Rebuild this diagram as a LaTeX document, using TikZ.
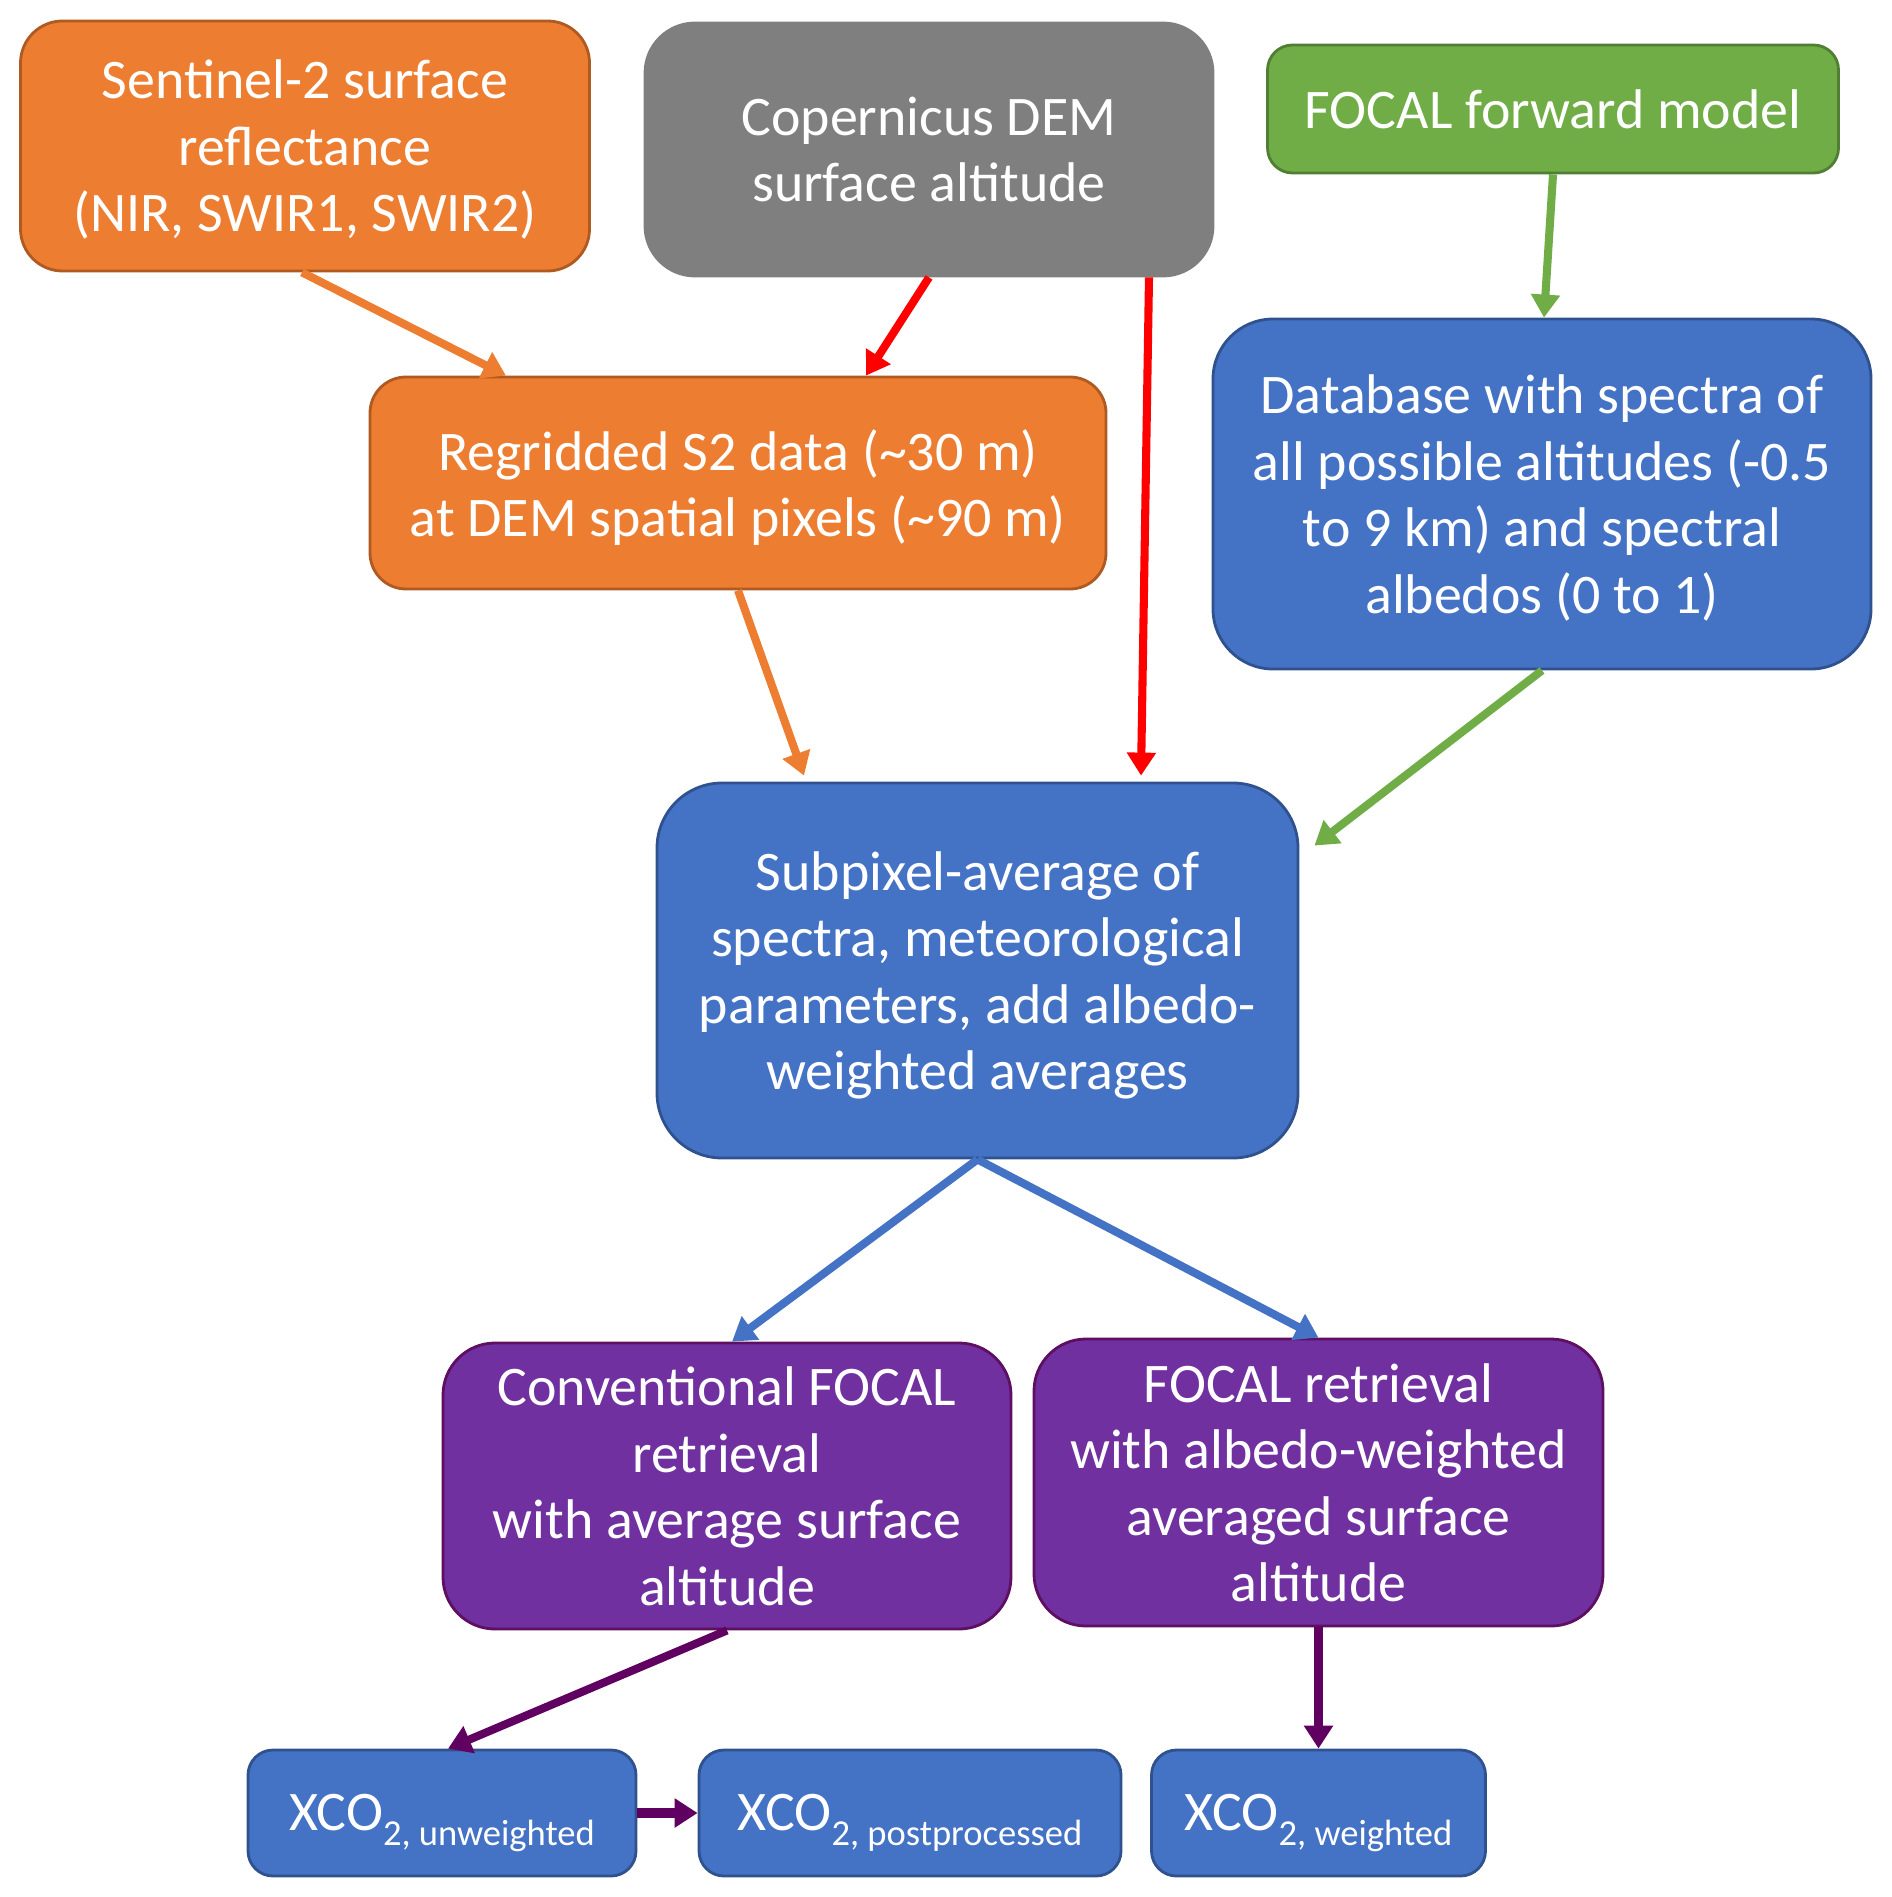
\documentclass[tikz,border=0pt]{standalone}
\usepackage{fontspec}
\setmainfont{Carlito}
\usetikzlibrary{arrows.meta}

\definecolor{orng}{HTML}{ED7D31}
\definecolor{orngD}{HTML}{AE5A21}
\definecolor{gry}{HTML}{7F7F7F}
\definecolor{grn}{HTML}{70AD47}
\definecolor{grnD}{HTML}{507E32}
\definecolor{blu}{HTML}{4472C4}
\definecolor{bluD}{HTML}{2F528F}
\definecolor{prp}{HTML}{7030A0}
\definecolor{prpD}{HTML}{5E0F62}
\definecolor{prpA}{HTML}{600060}
\definecolor{redA}{HTML}{FF0000}

\newcommand{\xsub}[1]{\raisebox{-4.2pt}{\fontsize{10.4}{12}\selectfont #1}}

\begin{document}
\begin{tikzpicture}[
      caixa/.style={draw, align=center, text=white, line width=0.8pt, inner sep=0pt,
                    font=\fontsize{15.9}{18.9}\selectfont, text depth=0pt},
      laranja/.style={caixa, fill=orng, draw=orngD},
      cinza/.style={caixa, fill=gry, draw=gry},
      verde/.style={caixa, fill=grn, draw=grnD},
      azul/.style={caixa, fill=blu, draw=bluD},
      roxo/.style={caixa, fill=prp, draw=prpD},
      xco/.style={azul, minimum height=1.26cm, rounded corners=0.25cm,
                  text height=10pt},
      seta/.style={-{Triangle[length=2.3mm, width=2.8mm]}, line width=2.3pt}
    ]
    \useasboundingbox (0,0) rectangle (18.92,-18.97);
    \node[laranja, minimum width=5.69cm, minimum height=2.50cm, rounded corners=0.42cm]
      (s2) at (3.05,-1.46) {Sentinel-2 surface\\ reflectance\\ (NIR, SWIR1, SWIR2)};
    \node[cinza, minimum width=5.68cm, minimum height=2.53cm, rounded corners=0.5cm]
      (dem) at (9.29,-1.495) {Copernicus DEM\\ surface altitude};
    \node[verde, minimum width=5.71cm, minimum height=1.28cm, rounded corners=0.25cm]
      (fwd) at (15.53,-1.09) {FOCAL forward model};
    \node[laranja, minimum width=7.36cm, minimum height=2.12cm, rounded corners=0.36cm]
      (regrid) at (7.38,-4.83) {Regridded S2 data (\textasciitilde30 m)\\
      at DEM spatial pixels (\textasciitilde90 m)};
    \node[azul, minimum width=6.58cm, minimum height=3.50cm, rounded corners=0.6cm]
      (db) at (15.42,-4.94) {Database with spectra of\\ all possible altitudes (-0.5\\
      to 9 km) and spectral\\ albedos (0 to 1)};
    \node[azul, minimum width=6.41cm, minimum height=3.75cm, rounded corners=0.65cm]
      (sub) at (9.775,-9.705) {Subpixel-average of\\ spectra, meteorological\\
      parameters, add albedo-\\ weighted averages};
    \node[roxo, minimum width=5.68cm, minimum height=2.86cm, rounded corners=0.52cm]
      (conv) at (7.27,-14.86) {Conventional FOCAL\\ retrieval\\ with average surface\\ altitude};
    \node[roxo, minimum width=5.69cm, minimum height=2.87cm, rounded corners=0.52cm]
      (fret) at (13.185,-14.825) {FOCAL retrieval\\ with albedo-weighted\\
      averaged surface\\ altitude};
    \node[xco, minimum width=3.88cm] (xu) at (4.42,-18.13) {XCO\xsub{2, unweighted}};
    \node[xco, minimum width=4.22cm] (xp) at (9.10,-18.13) {XCO\xsub{2, postprocessed}};
    \node[xco, minimum width=3.34cm] (xw) at (13.185,-18.13) {XCO\xsub{2, weighted}};
    % inputs
    \draw[seta, orng] ([xshift=-0.03cm]s2.south) -- ([xshift=-2.32cm]regrid.north);
    \draw[seta, redA] (dem.south) -- ([xshift=1.28cm]regrid.north);
    \draw[seta, redA] ([xshift=2.2cm]dem.south) -- ([xshift=1.635cm,yshift=0.06cm]sub.north);
    \draw[seta, grn] (fwd.south) -- ([xshift=0.02cm]db.north);
    \draw[seta, orng] (regrid.south) -- ([xshift=-1.735cm,yshift=0.06cm]sub.north);
    \draw[seta, grn] (db.south) -- ([xshift=0.15cm,yshift=-0.64cm]sub.north east);
    % retrievals
    \draw[seta, blu] (sub.south) -- ([xshift=0.05cm]conv.north);
    \draw[seta, blu] (sub.south) -- (fret.north);
    \draw[seta, prpA] (conv.south) -- ([xshift=0.06cm]xu.north);
    \draw[seta, prpA] (fret.south) -- (xw.north);
    \draw[seta, prpA, line width=2.8pt] (xu.east) -- (xp.west);
  \end{tikzpicture}
\end{document}
